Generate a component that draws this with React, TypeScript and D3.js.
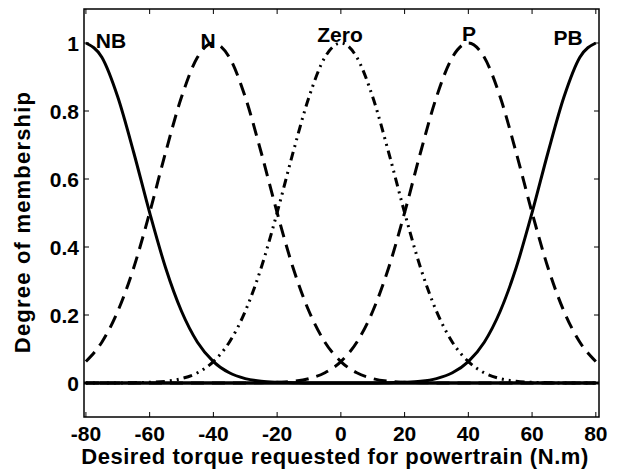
import React from "react";
import * as d3 from "d3";

const xs = [-80, -75, -70, -65, -60, -55, -50, -45, -40, -35, -30, -25, -20, -15, -10, -5, 0, 5, 10, 15, 20, 25, 30, 35, 40, 45, 50, 55, 60, 65, 70, 75, 80];

const nb = [1, 0.958, 0.841, 0.678, 0.501, 0.339, 0.211, 0.12, 0.063, 0.03, 0.013, 0.005, 0.002, 0.001, 0, 0, 0, 0, 0, 0, 0, 0, 0, 0, 0, 0, 0, 0, 0, 0, 0, 0, 0];
const n = [0.063, 0.12, 0.211, 0.339, 0.501, 0.678, 0.841, 0.958, 1, 0.958, 0.841, 0.678, 0.501, 0.339, 0.211, 0.12, 0.063, 0.03, 0.013, 0.005, 0.002, 0.001, 0, 0, 0, 0, 0, 0, 0, 0, 0, 0, 0];
const zero = [0, 0, 0, 0.001, 0.002, 0.005, 0.013, 0.03, 0.063, 0.12, 0.211, 0.339, 0.501, 0.678, 0.841, 0.958, 1, 0.958, 0.841, 0.678, 0.501, 0.339, 0.211, 0.12, 0.063, 0.03, 0.013, 0.005, 0.002, 0.001, 0, 0, 0];
const p = [0, 0, 0, 0, 0, 0, 0, 0, 0, 0, 0, 0.001, 0.002, 0.005, 0.013, 0.03, 0.063, 0.12, 0.211, 0.339, 0.501, 0.678, 0.841, 0.958, 1, 0.958, 0.841, 0.678, 0.501, 0.339, 0.211, 0.12, 0.063];
const pb = [0, 0, 0, 0, 0, 0, 0, 0, 0, 0, 0, 0, 0, 0, 0, 0, 0, 0, 0, 0.001, 0.002, 0.005, 0.013, 0.03, 0.063, 0.12, 0.211, 0.339, 0.501, 0.678, 0.841, 0.958, 1];

const seriesNames = ["NB", "N", "Zero", "P", "PB"];
const xTicks = [-80, -60, -40, -20, 0, 20, 40, 60, 80];
const yTicks = [0, 0.2, 0.4, 0.6, 0.8, 1];
const yTickLabels = ["0", "0.2", "0.4", "0.6", "0.8", "1"];

const W = 629;
const H = 475;
const L = 84, R = 599, T = 9, B = 417;
const FONT = "'Liberation Sans', Arial, Helvetica, sans-serif";

export default function App() {
  const x = d3.scaleLinear().domain([-80.6, 81.0]).range([L, R]);
  const y = d3.scaleLinear().domain([-0.1, 1.1]).range([B, T]);
  const line = d3
    .line<[number, number]>()
    .x((d) => x(d[0]))
    .y((d) => y(d[1]))
    .curve(d3.curveMonotoneX);

  const all = [nb, n, zero, p, pb];
  const dashes = [undefined, "13,8", "2,5,2,5,9,5", "13,8", undefined];
  const labelX = [111, 208, 340, 469, 568];
  const labelY = [48, 48, 42, 41, 45];

  return (
    <svg
      width={W}
      height={H}
      style={{ position: "absolute", left: 0, top: 0, background: "#fff" }}
      fontFamily={FONT}
      fontWeight="bold"
    >
      <rect x={0} y={0} width={W} height={H} fill="#fff" />
      <line x1={L} x2={R} y1={y(0)} y2={y(0)} stroke="#000" strokeWidth={3} />
      {all.map((vals, i) => (
        <path
          key={seriesNames[i]}
          d={line(xs.map((xv, j) => [xv, vals[j]] as [number, number])) || ""}
          fill="none"
          stroke="#000"
          strokeWidth={3}
          strokeDasharray={dashes[i]}
        />
      ))}
      <rect x={L} y={T} width={R - L} height={B - T} fill="none" stroke="#000" strokeWidth={1.5} />
      {xTicks.map((t) => (
        <g key={"xt" + t}>
          <line x1={x(t)} x2={x(t)} y1={B} y2={B - 5} stroke="#000" strokeWidth={1} />
          <line x1={x(t)} x2={x(t)} y1={T} y2={T + 5} stroke="#000" strokeWidth={1} />
          <text x={x(t)} y={441} textAnchor="middle" fontSize={21}>
            {t}
          </text>
        </g>
      ))}
      {yTicks.map((t, i) => (
        <g key={"yt" + t}>
          <line x1={L} x2={L + 5} y1={y(t)} y2={y(t)} stroke="#000" strokeWidth={1} />
          <line x1={R} x2={R - 5} y1={y(t)} y2={y(t)} stroke="#000" strokeWidth={1} />
          <text x={79} y={y(t)} dy="0.36em" textAnchor="end" fontSize={21}>
            {yTickLabels[i]}
          </text>
        </g>
      ))}
      {seriesNames.map((s, i) => (
        <text key={"lab" + s} x={labelX[i]} y={labelY[i]} textAnchor="middle" fontSize={21}>
          {s}
        </text>
      ))}
      <text x={335} y={464} textAnchor="middle" fontSize={22} letterSpacing={0.55}>
        Desired torque requested for powertrain (N.m)
      </text>
      <text
        transform={`translate(30, 222) rotate(-90)`}
        textAnchor="middle"
        fontSize={22}
        letterSpacing={1.2}
      >
        Degree of membership
      </text>
    </svg>
  );
}
